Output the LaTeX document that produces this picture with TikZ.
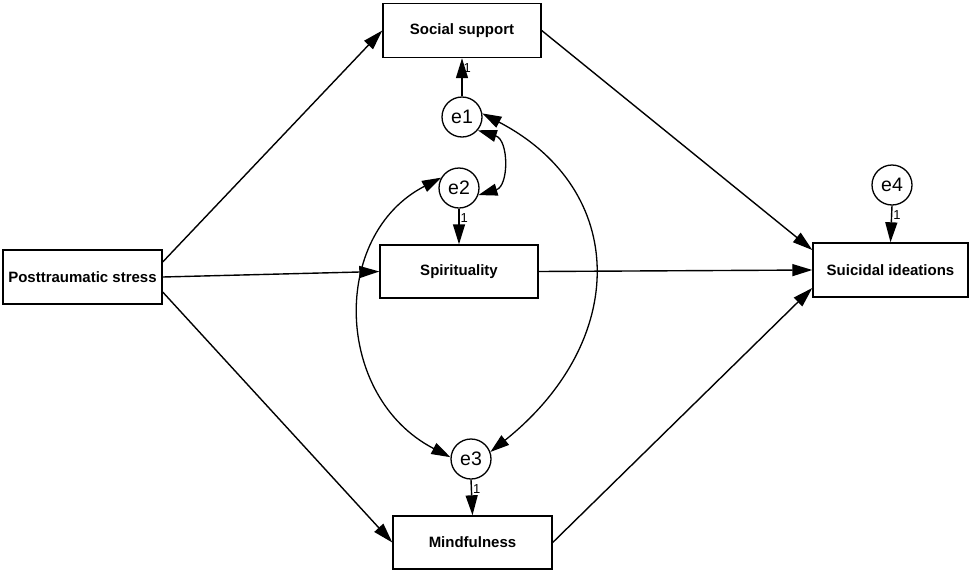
\documentclass[tikz,border=0pt]{standalone}
\usepackage{fontspec}
\setmainfont{Liberation Sans}
\usetikzlibrary{arrows.meta}
\begin{document}
\begin{tikzpicture}[x=1pt,y=-1pt,
  box/.style={draw,line width=1.4pt,minimum width=#1,minimum height=54pt,inner sep=0pt,font=\fontsize{15}{17}\selectfont\bfseries},
  err/.style={draw,circle,line width=1.3pt,minimum size=40pt,inner sep=0pt,font=\fontsize{19.5}{21}\selectfont},
  arr/.style={line width=1.4pt,-{Triangle[length=20pt,width=12pt]}},
  darr/.style={line width=1.3pt,{Triangle[length=19pt,width=12pt]}-{Triangle[length=19pt,width=12pt]}},
  one/.style={font=\fontsize{13}{15}\selectfont,inner sep=1pt,right}]
\useasboundingbox (0,0) rectangle (970,571);
\node[box=158pt] (SS) at (462,30.5) {Social support};
\node[box=158pt,minimum height=53pt] (SP) at (459,271.5) {Spirituality};
\node[box=159pt,minimum height=53pt] (MI) at (472.5,542.5) {Mindfulness};
\node[box=155pt] (SI) at (890.5,270) {Suicidal ideations};
\node[box=159pt] (PS) at (82.5,277) {Posttraumatic stress};
\node[err] (e1) at (462,117) {e1};
\node[err] (e2) at (459,188) {e2};
\node[err] (e3) at (471,459) {e3};
\node[err] (e4) at (892,185) {e4};
% paths from posttraumatic stress
\draw[arr] ([yshift=15pt]PS.east) -- (SS.west);
\draw[arr] (PS.east) -- (SP.west);
\draw[arr] ([yshift=-15pt]PS.east) -- (MI.west);
% paths to suicidal ideations
\draw[arr] (SS.east) -- ([yshift=20pt]SI.west);
\draw[arr] (SP.east) -- (SI.west);
\draw[arr] (MI.east) -- ([yshift=-18pt]SI.west);
% error terms
\draw[arr] (e1.north) -- node[one,pos=0.74]{1} (SS.south);
\draw[arr] (e2.south) -- node[one,pos=0.25]{1} (SP.north);
\draw[arr] (e3.south) -- node[one,pos=0.27]{1} (MI.north);
\draw[arr] (e4.south) -- node[one,pos=0.26]{1} (SI.north);
% covariances
\draw[darr] (e1.-40) .. controls (509,140) and (509,186) .. (e2.-20);
\draw[darr] (e2.150) .. controls (330,235) and (334,397) .. (e3.175);
\draw[darr] (e1.10) .. controls (629,190) and (629,341) .. (e3.20);
\end{tikzpicture}
\end{document}
